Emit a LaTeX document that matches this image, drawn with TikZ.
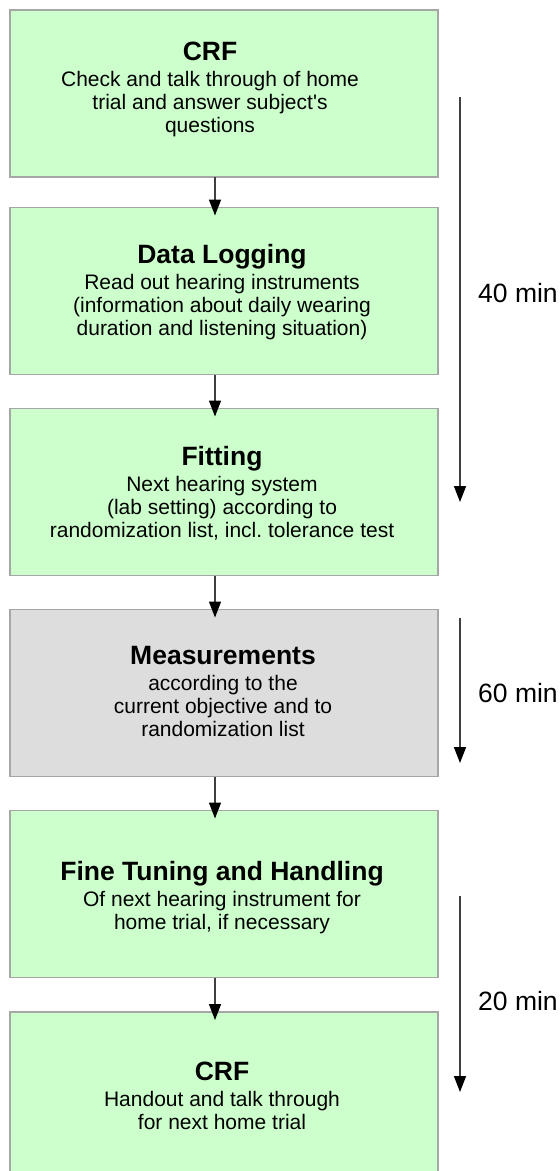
\documentclass[tikz,border=0pt]{standalone}
\usepackage{fontspec}
\setmainfont{Liberation Sans}
\usetikzlibrary{arrows.meta,calc}
\definecolor{boxgreen}{HTML}{CCFFCC}
\definecolor{boxgray}{HTML}{DDDDDD}
\definecolor{boxline}{HTML}{A6A6A6}
\definecolor{arrline}{HTML}{404040}
\frenchspacing
\newcommand{\ttlfont}{\fontsize{26.5}{30}\selectfont\bfseries}
\newcommand{\bdyfont}{\fontsize{21}{23.4}\selectfont}
\newcommand{\boxtext}[2]{\parbox[t]{420pt}{\centering{\ttlfont #1\par}\vspace{2.6pt}\bdyfont #2\par}}
\tikzset{
  procbox/.style={draw=boxline, line width=1.5pt, fill=boxgreen, minimum width=428pt, minimum height=167pt, inner sep=0pt, outer sep=0pt},
  graybox/.style={procbox, fill=boxgray},
  txt/.style={inner sep=0pt, outer sep=0pt, anchor=base},
  flow/.style={draw=arrline, line width=1.5pt, -{Triangle[length=16pt,width=12pt,color=black]}},
  timelabel/.style={inner sep=0pt, anchor=base west, font=\fontsize{26.5}{30}\selectfont}
}
\begin{document}
\begin{tikzpicture}[x=1pt,y=-1pt]
\useasboundingbox (0,0) rectangle (560,1171);
\clip (0,0) rectangle (560,1171);
% boxes
\node[procbox] (b1) at (224,93.5) {};
\node[procbox] (b2) at (224,291) {};
\node[procbox] (b3) at (224,492) {};
\node[graybox] (b4) at (224,693) {};
\node[procbox] (b5) at (224,894) {};
\node[procbox] (b6) at (224,1095.5) {};
% texts
\node[txt] (t1) at (210,60) {\boxtext{CRF}{Check and talk through of home\\trial and answer subject\textquotesingle s\\questions}};
\node[txt] (t2) at (222,263) {\boxtext{Data Logging}{Read out hearing instruments\\(information about daily wearing\\duration and listening situation)}};
\node[txt] (t3) at (222,465) {\boxtext{Fitting}{Next hearing system\\(lab setting) according to\\randomization list, incl.\ tolerance test}};
\node[txt] (t4) at (223,664) {\boxtext{Measurements}{according to the\\current objective and to\\randomization list}};
\node[txt] (t5) at (222,880) {\boxtext{Fine Tuning and Handling}{Of next hearing instrument for\\home trial, if necessary}};
\node[txt] (t6) at (222,1080) {\boxtext{CRF}{Handout and talk through\\for next home trial}};
% flow arrows
\coordinate (ax) at (215,0);
\draw[flow] (b1.south -| ax) -- ([yshift=-8pt]b2.north -| ax);
\draw[flow] (b2.south -| ax) -- ([yshift=-8pt]b3.north -| ax);
\draw[flow] (b3.south -| ax) -- ([yshift=-8pt]b4.north -| ax);
\draw[flow] (b4.south -| ax) -- ([yshift=-8pt]b5.north -| ax);
\draw[flow] (b5.south -| ax) -- ([yshift=-8pt]b6.north -| ax);
% time arrows
\coordinate (r1s) at (460,97);
\coordinate (r1e) at (460,502);
\coordinate (r2s) at (460,618);
\coordinate (r2e) at (460,763);
\coordinate (r3s) at (460,896);
\coordinate (r3e) at (460,1092);
\draw[flow] (r1s) -- (r1e);
\draw[flow] (r2s) -- (r2e);
\draw[flow] (r3s) -- (r3e);
\node[timelabel] (l1) at (478,302) {40 min};
\node[timelabel] (l2) at (478,702) {60 min};
\node[timelabel] (l3) at (478,1010) {20 min};
\end{tikzpicture}
\end{document}
